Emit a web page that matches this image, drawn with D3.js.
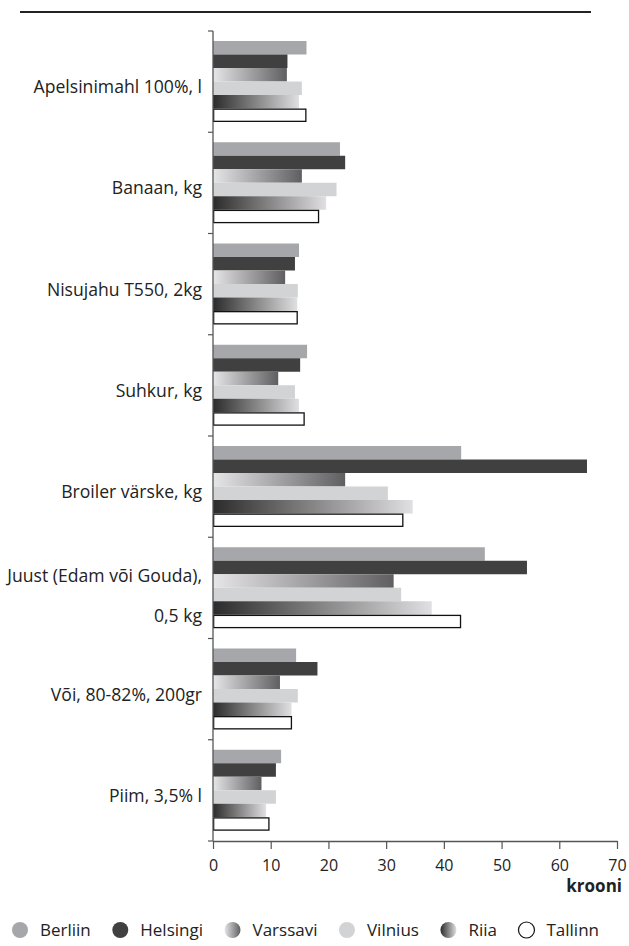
<!DOCTYPE html>
<html><head><meta charset="utf-8">
<script src="https://cdn.jsdelivr.net/npm/d3@7"></script>
<style>
html,body{margin:0;padding:0;background:#fff;}
svg{display:block;font-family:"Open Sans",sans-serif;}
</style></head>
<body>
<svg id="chart" width="629" height="946"></svg>
<script>
const categories = ["Apelsinimahl 100%, l", "Banaan, kg", "Nisujahu T550, 2kg", "Suhkur, kg", "Broiler värske, kg", "Juust (Edam või Gouda), 0,5 kg", "Või, 80-82%, 200gr", "Piim, 3,5% l"];
const categoryLines = [["Apelsinimahl 100%, l"], ["Banaan, kg"], ["Nisujahu T550, 2kg"], ["Suhkur, kg"], ["Broiler värske, kg"], ["Juust (Edam või Gouda),", "0,5 kg"], ["Või, 80-82%, 200gr"], ["Piim, 3,5% l"]];
const seriesNames = ["Berliin", "Helsingi", "Varssavi", "Vilnius", "Riia", "Tallinn"];
const berliin  = [16.2, 22.0, 14.9, 16.3, 43.0, 47.1, 14.4, 11.8];
const helsingi = [12.9, 22.9, 14.2, 15.1, 64.8, 54.4, 18.1, 10.9];
const varssavi = [12.8, 15.4, 12.5, 11.3, 22.9, 31.3, 11.6, 8.4];
const vilnius  = [15.4, 21.4, 14.7, 14.2, 30.3, 32.6, 14.7, 10.9];
const riia     = [14.9, 19.6, 14.6, 14.9, 34.6, 37.9, 13.6, 9.2];
const tallinn  = [16.2, 18.4, 14.7, 15.9, 33.0, 43.0, 13.7, 9.8];
const xTicks = [0, 10, 20, 30, 40, 50, 60, 70];
const xTitle = "krooni";

const seriesValues = [berliin, helsingi, varssavi, vilnius, riia, tallinn];
const fills = ["#a6a7aa", "#404040", "url(#gVarssavi)", "#d2d3d5", "url(#gRiia)", "#ffffff"];

const svg = d3.select("#chart");
const defs = svg.append("defs");
function grad(id, c1, c2) {
  const g = defs.append("linearGradient").attr("id", id)
    .attr("x1", "0%").attr("x2", "100%").attr("y1", "0%").attr("y2", "0%");
  g.append("stop").attr("offset", "0%").attr("stop-color", c1);
  g.append("stop").attr("offset", "100%").attr("stop-color", c2);
}
grad("gVarssavi", "#e6e6e8", "#5f5f61");
grad("gRiia", "#2b2b2b", "#e0e0e2");

const mLeft = 213, mRight = 617, mTop = 31, mBottom = 841;
const x = d3.scaleLinear().domain([0, 70]).range([mLeft, mRight]);
const y0 = d3.scaleBand().domain(categories).range([mTop, mBottom]);
const y1 = d3.scaleBand().domain(seriesNames).range([10, y0.bandwidth() - 10.25]);

// top rule
svg.append("line").attr("x1", 20).attr("x2", 591).attr("y1", 12).attr("y2", 12)
  .attr("stroke", "#222").attr("stroke-width", 2);

// bars
const groups = svg.append("g").selectAll("g").data(categories).join("g")
  .attr("transform", d => `translate(0,${y0(d)})`);
groups.each(function(cat, ci) {
  const g = d3.select(this);
  seriesNames.forEach((s, si) => {
    const v = seriesValues[si][ci];
    const isT = s === "Tallinn";
    const sw = isT ? 1.3 : 0;
    g.append("rect")
      .attr("x", x(0) + sw / 2)
      .attr("y", y1(s) + sw / 2)
      .attr("width", x(v) - x(0) - sw)
      .attr("height", y1.bandwidth() - sw)
      .attr("fill", fills[si])
      .attr("stroke", isT ? "#111" : "none")
      .attr("stroke-width", sw);
  });
});

// y axis line and band ticks
const bounds = categories.map(c => y0(c)).concat([mBottom]);
svg.append("line").attr("x1", mLeft).attr("x2", mLeft).attr("y1", mTop).attr("y2", mBottom)
  .attr("stroke", "#555").attr("stroke-width", 1.3);
svg.append("g").selectAll("line").data(bounds).join("line")
  .attr("x1", mLeft - 5).attr("x2", mLeft).attr("y1", d => d).attr("y2", d => d)
  .attr("stroke", "#555").attr("stroke-width", 1.2);

// category labels
categories.forEach((c, i) => {
  const lines = categoryLines[i];
  const cy = y0(c) + y0.bandwidth() / 2;
  const t = svg.append("text").attr("text-anchor", "end").attr("font-size", 17.6).attr("fill", "#222");
  if (lines.length === 1) {
    t.append("tspan").attr("x", 202).attr("y", cy + 11.5).text(lines[0]);
  } else {
    t.append("tspan").attr("x", 202).attr("y", cy - 6).text(lines[0]);
    t.append("tspan").attr("x", 202).attr("y", cy + 34).text(lines[1]);
  }
});

// x axis
const xAxis = svg.append("g").attr("transform", `translate(0,${mBottom})`)
  .call(d3.axisBottom(x).tickValues(xTicks).tickSize(8).tickSizeOuter(0));
xAxis.select(".domain").attr("stroke", "#555").attr("stroke-width", 1.3);
xAxis.selectAll(".tick line").attr("stroke", "#555").attr("stroke-width", 1.2);
xAxis.selectAll(".tick text").attr("y", 19).attr("font-size", 16)
  .attr("font-family", "Open Sans, sans-serif").attr("fill", "#222");
svg.append("text").attr("x", 622).attr("y", 892).attr("text-anchor", "end")
  .attr("font-size", 17).attr("font-weight", "bold").attr("fill", "#222").text(xTitle);

// legend
const legend = svg.append("g");
let lx = 20;
seriesNames.forEach((s, si) => {
  legend.append("circle").attr("cx", lx).attr("cy", 930).attr("r", 8)
    .attr("fill", fills[si])
    .attr("stroke", s === "Tallinn" ? "#111" : "none").attr("stroke-width", 1.2);
  const t = legend.append("text").attr("x", lx + 20).attr("y", 936)
    .attr("font-size", 17).attr("fill", "#222").text(s);
  lx = lx + 20 + t.node().getComputedTextLength() + 29.5;
});
</script>
</body></html>
